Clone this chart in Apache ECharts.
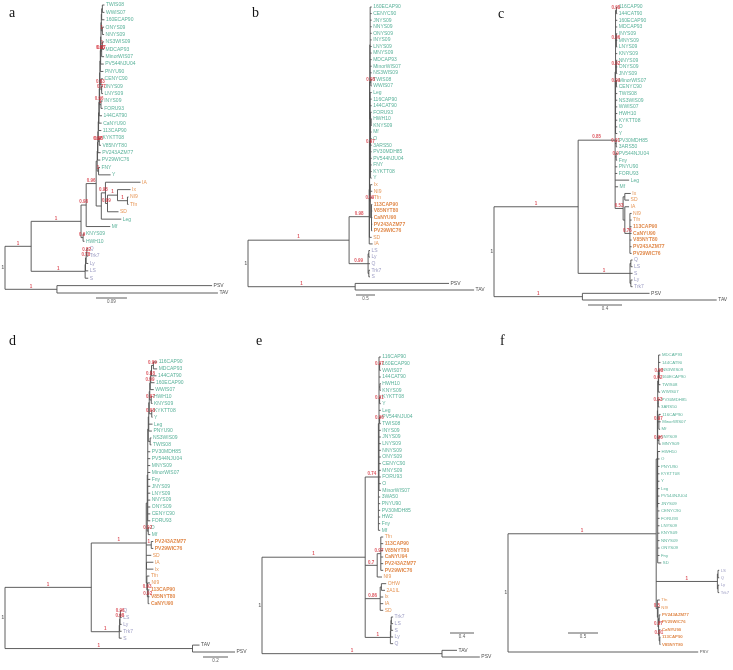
<!DOCTYPE html>
<html><head><meta charset="utf-8">
<script src="https://cdn.jsdelivr.net/npm/echarts@6/dist/echarts.min.js"></script>
<style>html,body{margin:0;padding:0;background:#fff}#c{width:733px;height:670px}</style>
</head><body><div id="c"></div>
<script>
// ---------------- DATA (Newick trees: branch lengths in substitutions/site, node labels = posterior support) -------------
const treeA = [
  "(((((",
  "(((((((((((((((TWIS08:0.006,WWIS07:0.006):0.002,160ECAP90:0.008):0.001,(ONYS09:0.005,NNYS09:0.005)1:0.003):0.001,",
  "((NS3WIS09:0.005,MDCAP93:0.005)1:0.002,MinorWIS07:0.007)0.97:0.002):0.001,PV544NJU04:0.009)0.93:0.001,PNYU90:0.009):0.001,",
  "(CENYC90:0.006,(JNYS09:0.004,LNYS09:0.004)0.77:0.002)0.83:0.003):0.001,(INYS09:0.005,FORU93:0.005)1:0.004):0.001,",
  "144CAT90:0.008)0.96:0.001,CaNYU90:0.008):0.001,113CAP90:0.008):0.001,(KYKTT08:0.005,V85NYT80:0.005)0.98:0.003):0.001,",
  "PV243AZM77:0.008)0.97:0.001,PV29WIC76:0.008):0.001,(FNY:0.004,Y:0.035)1:0.004):0.003,",
  "((IA:0.102,((Ix:0.038,(NI9:0.003,Tfn:0.003)1:0.029)1:0.029,SD:0.032)0.99:0.006)0.98:0.012,Leg:0.058):0.015",
  ")0.96:0.029,Mf:0.07)0.98:0.015,(KNYS09:0.004,HWH10:0.004)0.9:0.006)1:0.145,",
  "((((Q:0.004,Trk7:0.004)0.82:0.002,Ly:0.006)0.78:0.002,LS:0.008):0.001,S:0.009)1:0.157",
  ")1:0.076,(PSV:0.451,TAV:0.468)1:0.151)1"
].join("");

const treeB = [
  "((((((",
  "(160ECAP90:0.04,CENYC90:0.04,JNYS09:0.04,NNYS09:0.04,ONYS09:0.04,INYS09:0.04,LNYS09:0.04,MNYS09:0.04,MDCAP93:0.04,MinorWIS07:0.04,NS3WIS09:0.04,(TWIS08:0.02,WWIS07:0.02)0.98:0.02):0.01,",
  "(Leg:0.04,116CAP90:0.04,144CAT90:0.04,(FORU93:0.03,(HWH10:0.015,KNYS09:0.015):0.015,Mf:0.03,O:0.03,3ARS50:0.03,PV30MDH85:0.03,PV544NJU04:0.03,FNY:0.03,KYKTT08:0.03,Y:0.03)0.97:0.01):0.01",
  "):0.005,",
  "(Ix:0.05,NI9:0.05,Tfn:0.05,(113CAP90:0.02,V85NYT80:0.02,CaNYU90:0.02,PV243AZM77:0.02,PV29WIC76:0.02):0.03)0.99:0.02",
  "):0.005,SD:0.06):0.005,IA:0.09)0.98:0.53,",
  "((LS:0.03,Ly:0.03):0.02,Q:0.05,(Trk7:0.03,S:0.03):0.02)0.99:0.5",
  ")1:2.66,(PSV:2.47,TAV:3.13)1:2.82)1"
].join("");

const treeC = [
  "(((",
  "((116CAP90:0.01,144CAT90:0.01)0.98:0.01,160ECAP90:0.02,MDCAP93:0.02,(INYS09:0.01,MNYS09:0.01,LNYS09:0.01)0.96:0.01,KNYS09:0.02,",
  "(NNYS09:0.01,ONYS09:0.01,JNYS09:0.01)0.92:0.01,(MinorWIS07:0.01,CENYC90:0.01)0.99:0.01,TWIS08:0.02,NS3WIS09:0.02,WWIS07:0.02,HWH10:0.02,KYKTT08:0.02,O:0.02,Y:0.02):0.005,",
  "(PV30MDH85:0.012,3ARS50:0.012)0.91:0.012,(PV544NJU04:0.012,Fny:0.012)0.9:0.012,PNYU90:0.025,FORU93:0.025,Leg:0.165,Mf:0.035,",
  "((Ix:0.07,SD:0.05):0.02,(IA:0.05,(NI9:0.02,Tfn:0.02,113CAP90:0.02,CaNYU90:0.02,V85NYT80:0.02,PV243AZM77:0.02,PV29WIC76:0.02)0.76:0.06):0.02)0.53:0.094",
  ")0.85:0.435,",
  "((Q:0.02,LS:0.02):0.01,S:0.03,(Ly:0.02,Trk7:0.02):0.01)1:0.61",
  ")1:0.99,(PSV:0.79,TAV:1.58)1:1.04)1"
].join("");

const treeD = [
  "(((((((((((",
  "((116CAP90:0.03,MDCAP93:0.03)0.99:0.015,144CAT90:0.04):0.006,160ECAP90:0.03",
  ")0.98:0.004,WWIS07:0.028",
  ")0.99:0.004,(HWH10:0.01,KNYS09:0.01)0.97:0.012",
  "):0.004,(KYKTT08:0.006,Y:0.006)0.98:0.02",
  "):0.004,Leg:0.03,PNYU90:0.025",
  "):0.004,(NS3WIS09:0.01,TWIS08:0.01):0.015",
  "):0.004,PV30MDH85:0.02,PV544NJU04:0.02,MNYS09:0.02,MinorWIS07:0.02,Fny:0.02,JNYS09:0.02,LNYS09:0.02,NNYS09:0.02,ONYS09:0.02,CENYC90:0.02,FORU93:0.02",
  "):0.004,(O:0.008,Mf:0.016)0.92:0.008",
  "):0.008,(PV243AZM77:0.016,PV29WIC76:0.016)1:0.04,SD:0.04,(IA:0.055,Ix:0.055):0.002,",
  "(Tfn:0.02,(NI9:0.02,(113CAP90:0.01,V85NYT80:0.01,CaNYU90:0.01)0.92:0.006)0.93:0.004):0.005",
  ")1:0.44,",
  "((((Q:0.01,LS:0.01)0.96:0.003,Ly:0.013)0.98:0.003,Trk7:0.016):0.003,S:0.019)1:0.224",
  ")1:0.69,(TAV:0.056,PSV:0.34)1:1.5)1"
].join("");

const treeE = [
  "((",
  "((116CAP90:0.03,(160ECAP90:0.02,WWIS07:0.02)0.97:0.01,144CAT90:0.03,(HWH10:0.015,KNYS09:0.015):0.015,(KYKTT08:0.02,Y:0.02)0.91:0.01,Leg:0.03,",
  "(PV544NJU04:0.02,TWIS08:0.02)0.96:0.01,INYS09:0.03,JNYS09:0.03,LNYS09:0.03,NNYS09:0.03,ONYS09:0.03,CENYC90:0.03,MNYS09:0.03,FORU93:0.03,O:0.03,MinorWIS07:0.03):0.01,",
  "3WA50:0.03,PNYU90:0.03,PV30MDH85:0.03,HW2:0.03,Fny:0.03,Mf:0.03)0.74:0.22,",
  "((Tfn:0.04,113CAP90:0.04,V85NYT80:0.04,CaNYU94:0.04,PV243AZM77:0.04,PV29WIC76:0.04)0.97:0.06,NI9:0.08)0.7:0.2,",
  "((OHW:0.08,2A1IL:0.06):0.02,Ix:0.05,IA:0.05,SD:0.05)0.86:0.25,",
  "((((Trk7:0.03,LS:0.03):0.005,S:0.035):0.005,Ly:0.04):0.005,Q:0.045)1:0.42",
  ")1:1.72,(TAV:0.25,PSV:0.63)1:3.0)1"
].join("");

const treeF = [
  "((((",
  "((MDCAP93:0.03,144CAT90:0.03,(NS3WIS09:0.02,160ECAP90:0.02)0.98:0.01,TWIS08:0.03):0.005,WWIS07:0.03)0.62:0.01,",
  "(PV30MDH85:0.03,3ARS50:0.02)0.63:0.01,(116CAP90:0.03,MinorWIS07:0.03,Mf:0.02)0.97:0.02,(INYS09:0.03,MNYS09:0.03)0.96:0.02",
  "):0.005,",
  "(HWH10:0.04,O:0.03,PNYU90:0.03,KYKTT08:0.03,Y:0.03,Leg:0.03,PV544NJU04:0.03,JNYS09:0.03,CENYC90:0.03,FORU93:0.03,LNYS09:0.03,KNYS09:0.03,NNYS09:0.03,ONYS09:0.03,Fny:0.03,SD:0.06):0.005",
  "):0.02,",
  "((LS:0.02,Q:0.02):0.01,(Ly:0.02,Trk7:0.02):0.01)1:1.02,",
  "(Tfn:0.04,(NI9:0.03,((PV243AZM77:0.02,PV29WIC76:0.02):0.01,(CaNYU90:0.02,(113CAP90:0.01,V85NYT80:0.01):0.01)0.91:0.01)0.97:0.01):0.01)0.5:0.02",
  ")1:2.47,PSV:3.17)1"
].join("");

const panelLetters = ["a", "b", "c", "d", "e", "f"];
const scaleValues = [0.09, 0.5, 0.4, 0.2, 0.4, 0.5];
const scaleLabels = ["0.09", "0.5", "0.4", "0.2", "0.4", "0.5"];
const subgroupII = ["Q", "Trk7", "Ly", "LS", "S"];
const outgroups = ["PSV", "TAV"];
const orangeA = ["IA", "Ix", "NI9", "Tfn", "SD"];
const orangeB = ["Ix", "NI9", "Tfn", "SD", "IA"];
const orangeC = ["Ix", "SD", "IA", "NI9", "Tfn"];
const orangeD = ["SD", "IA", "Ix", "Tfn", "NI9"];
const orangeE = ["Tfn", "NI9", "OHW", "2A1IL", "Ix", "IA", "SD"];
const orangeF = ["Tfn", "NI9"];
const boldStrains = ["113CAP90", "V85NYT80", "CaNYU90", "CaNYU94", "PV243AZM77", "PV29WIC76"];
const boldInPanel = [false, true, true, true, true, true];

// ---------------- LAYOUT (pixels) ----------------
const layouts = [
  {left: 5,   top: 5,   bottom: 293, width: 235, unitPx: 344, barX: 96,  barY: 298, lx: 9,   ly: 13,  font: 5},
  {left: 248, top: 7,   bottom: 290, width: 240, unitPx: 38,  barX: 356, barY: 295, lx: 252, ly: 13,  font: 5},
  {left: 494, top: 7,   bottom: 300, width: 235, unitPx: 85,  barX: 588, barY: 305, lx: 498, ly: 14,  font: 5},
  {left: 5,   top: 362, bottom: 652, width: 240, unitPx: 125, barX: 203, barY: 657, lx: 9,   ly: 341, font: 5},
  {left: 262, top: 357, bottom: 657, width: 230, unitPx: 60,  barX: 450, barY: 633, lx: 256, ly: 341, font: 5},
  {left: 508, top: 355, bottom: 652, width: 225, unitPx: 60,  barX: 568, barY: 633, lx: 500, ly: 341, font: 4.3}
];
const COL = {green: "#2f9e80", orange: "#e07a2a", orangeBold: "#d86a1c", purple: "#8585b5", black: "#222", red: "#d42a36", line: "#4d4d4d"};
const FONT = "'Liberation Sans', Arial, sans-serif";

// ---------------- helpers ----------------
function parseNewick(s) {
  let i = 0;
  function node() {
    const n = {children: []};
    if (s[i] === "(") {
      i++;
      while (true) {
        n.children.push(node());
        if (s[i] === ",") { i++; continue; }
        if (s[i] === ")") { i++; break; }
        throw new Error("Newick parse error at " + i + ": " + s.slice(i, i + 30));
      }
    }
    let lab = "";
    while (i < s.length && ":,()".indexOf(s[i]) < 0) lab += s[i++];
    if (n.children.length) n.support = lab; else n.name = lab;
    n.len = 0;
    if (s[i] === ":") {
      i++; let num = "";
      while (i < s.length && ",()".indexOf(s[i]) < 0) num += s[i++];
      n.len = parseFloat(num);
    }
    return n;
  }
  return node();
}
function layoutTree(root) {
  let k = 0; const leaves = [], internals = [], segs = [];
  function walk(n, px) {
    n.px = px; n.x = px + n.len;
    if (!n.children.length) { n.y = k++; leaves.push(n); }
    else {
      n.children.forEach(c => walk(c, n.x));
      const a = n.children[0].y, b = n.children[n.children.length - 1].y;
      n.y = (a + b) / 2;
      segs.push([n.x, a, n.x, b]);
      internals.push(n);
    }
    if (n !== root) segs.push([px, n.y, n.x, n.y]);
  }
  walk(root, 0);
  return {leaves, internals, segs, root};
}

const trees = [treeA, treeB, treeC, treeD, treeE, treeF];
const oranges = [orangeA, orangeB, orangeC, orangeD, orangeE, orangeF];

const grids = [], xAxes = [], yAxes = [], series = [], graphics = [];
trees.forEach((tr, i) => {
  const L = layouts[i];
  const t = layoutTree(parseNewick(tr));
  const n = t.leaves.length;
  const spacing = (L.bottom - L.top) / (n - 1);
  grids.push({left: L.left, top: L.top, width: L.width, height: L.bottom - L.top});
  xAxes.push({type: "value", gridIndex: i, min: 0, max: L.width / L.unitPx, show: false});
  yAxes.push({type: "value", gridIndex: i, min: 0, max: n - 1, inverse: true, show: false});
  const bx = (L.barX - L.left) / L.unitPx, by = (L.barY - L.top) / spacing;

  series.push({
    type: "custom", xAxisIndex: i, yAxisIndex: i, silent: true, clip: false,
    data: t.segs.concat([[bx, by, bx + scaleValues[i], by]]),
    encode: {x: [0, 2], y: [1, 3]},
    renderItem: function (params, api) {
      const p1 = api.coord([api.value(0), api.value(1)]);
      const p2 = api.coord([api.value(2), api.value(3)]);
      return {type: "line", shape: {x1: p1[0], y1: p1[1], x2: p2[0], y2: p2[1]},
        style: {stroke: COL.line, lineWidth: 0.9}};
    }
  });

  series.push({
    type: "scatter", xAxisIndex: i, yAxisIndex: i, silent: true, clip: false,
    symbolSize: 0, itemStyle: {color: "transparent"},
    label: {show: true, position: "right", distance: 1.5, formatter: "{b}", fontSize: L.font, fontFamily: FONT},
    data: t.leaves.map(l => {
      let c = COL.green, w = "normal";
      if (outgroups.includes(l.name)) c = COL.black;
      else if (subgroupII.includes(l.name)) c = COL.purple;
      else if (boldInPanel[i] && boldStrains.includes(l.name)) { c = COL.orangeBold; w = "bold"; }
      else if (oranges[i].includes(l.name)) c = COL.orange;
      return {name: l.name, value: [l.x, l.y], label: {color: c, fontWeight: w}};
    })
  });

  const sup = t.internals.filter(nd => nd !== t.root && nd.support);
  series.push({
    type: "scatter", xAxisIndex: i, yAxisIndex: i, silent: true, clip: false,
    symbolSize: 0, itemStyle: {color: "transparent"},
    label: {show: true, position: "top", distance: 0.5, formatter: "{b}", fontSize: 4.5, fontWeight: "bold", color: COL.red, fontFamily: FONT},
    data: sup.map(nd => ({name: nd.support, value: [(nd.px + nd.x) / 2, nd.y]}))
      .concat(t.root.support ? [{name: t.root.support, value: [0, t.root.y], label: {position: "left", distance: 1, color: "#444"}}] : [])
  });

  series.push({
    type: "scatter", xAxisIndex: i, yAxisIndex: i, silent: true, clip: false,
    symbolSize: 0, itemStyle: {color: "transparent"},
    label: {show: true, position: "bottom", distance: 1.5, formatter: "{b}", fontSize: 4.5, color: "#333", fontFamily: FONT},
    data: [{name: scaleLabels[i], value: [bx + scaleValues[i] / 2, by]}]
  });

  graphics.push({type: "text", left: L.lx, top: L.ly - 7, silent: true,
    style: {text: panelLetters[i], font: "14px 'Liberation Serif', serif", fill: "#111"}});
});

const chart = echarts.init(document.getElementById("c"), null, {renderer: "canvas"});
chart.setOption({animation: false, grid: grids, xAxis: xAxes, yAxis: yAxes, series: series, graphic: graphics});
</script></body></html>
